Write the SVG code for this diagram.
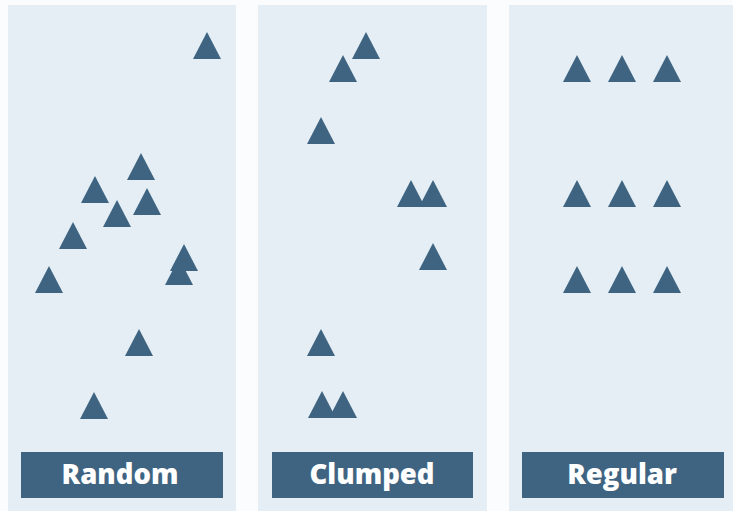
<svg xmlns="http://www.w3.org/2000/svg" xmlns:xlink="http://www.w3.org/1999/xlink" width="733" height="511" viewBox="0 0 733 511">
<style>
.panel{fill:#e4eef4}
.tri{fill:#3f6482}
.bar{fill:#3f6482}
.lbl{fill:#ffffff;font-family:"Open Sans","Noto Sans",sans-serif;font-weight:800;font-size:27.5px;text-anchor:middle}
</style>
<defs>
<path id="t" d="M0,-27 L14,0 L-14,0Z"/>
</defs>
<rect x="0" y="0" width="733" height="511" fill="#fbfcfd"/>
<g id="random">
<rect class="panel" x="8" y="5" width="228" height="506"/>
<g class="tri">
<use href="#t" x="207" y="59"/>
<use href="#t" x="141" y="180"/>
<use href="#t" x="95" y="203"/>
<use href="#t" x="147" y="215"/>
<use href="#t" x="117" y="227"/>
<use href="#t" x="73" y="249"/>
<use href="#t" x="49" y="293"/>
<use href="#t" x="184" y="271"/>
<use href="#t" x="179" y="285"/>
<use href="#t" x="139" y="356"/>
<use href="#t" x="94" y="419"/>
</g>
<rect class="bar" x="21" y="452" width="202" height="46"/>
<text class="lbl" x="120" y="484">Random</text>
</g>
<g id="clumped">
<rect class="panel" x="258" y="5" width="229" height="506"/>
<g class="tri">
<use href="#t" x="366" y="59"/>
<use href="#t" x="343" y="82"/>
<use href="#t" x="321" y="144"/>
<use href="#t" x="411" y="207"/>
<use href="#t" x="433" y="207"/>
<use href="#t" x="433" y="270"/>
<use href="#t" x="321" y="356"/>
<use href="#t" x="322" y="418"/>
<use href="#t" x="343" y="418"/>
</g>
<rect class="bar" x="272" y="452" width="201" height="46"/>
<text class="lbl" x="372" y="484">Clumped</text>
</g>
<g id="regular">
<rect class="panel" x="509" y="5" width="224" height="506"/>
<g class="tri">
<use href="#t" x="577" y="82"/>
<use href="#t" x="622" y="82"/>
<use href="#t" x="667" y="82"/>
<use href="#t" x="577" y="207"/>
<use href="#t" x="622" y="207"/>
<use href="#t" x="667" y="207"/>
<use href="#t" x="577" y="293"/>
<use href="#t" x="622" y="293"/>
<use href="#t" x="667" y="293"/>
</g>
<rect class="bar" x="522" y="452" width="202" height="46"/>
<text class="lbl" x="622" y="484">Regular</text>
</g>
</svg>
